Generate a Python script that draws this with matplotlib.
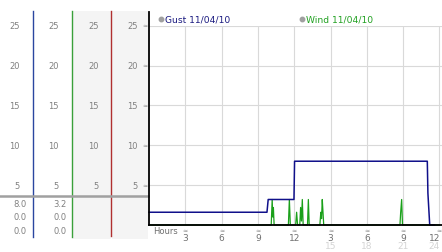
import matplotlib
matplotlib.use("Agg")
import matplotlib.pyplot as plt
from matplotlib.patches import Rectangle
from matplotlib.transforms import blended_transform_factory

# Gust series (hours, mph)
gust_hours = [0.0, 9.75, 9.85, 11.98, 12.03, 23.0, 23.05, 23.2, 23.6]
gust_vals = [1.6, 1.6, 3.2, 3.2, 8.0, 8.0, 4.0, 0.0, 0.0]

# Wind series (hours, mph)
wind_hours = [0.0, 10.1, 10.18, 10.23, 10.28, 10.34, 11.52, 11.6, 11.68,
              12.12, 12.2, 12.28, 12.46, 12.53, 12.6, 12.67, 12.74,
              13.1, 13.17, 13.24, 14.12, 14.2, 14.26, 14.32, 14.38, 14.44,
              20.74, 20.8, 20.88, 20.95, 24.0]
wind_vals = [0, 0, 3.2, 1.0, 2.2, 0, 0, 3.2, 0,
             0, 1.6, 0, 0, 2.2, 0.5, 3.2, 0,
             0, 3.2, 0, 0, 1.6, 0.8, 3.2, 1.6, 0,
             0, 1.6, 3.2, 0, 0]

y_ticks = [5, 10, 15, 20, 25]
x_ticks = [3, 6, 9, 12, 15, 18, 21, 24]
x_labels = ["3", "6", "9", "12", "3", "6", "9", "12"]
x_ticks2 = [15, 18, 21, 24]
x_labels2 = ["15", "18", "21", "24"]
table_gust = ["8.0", "0.0", "0.0"]
table_wind = ["3.2", "0.0", "0.0"]

W, H = 442, 253
fig = plt.figure(figsize=(W / 100, H / 100), dpi=100)

# overlay in pixel coords for the left panel
ov = fig.add_axes([0, 0, 1, 1], zorder=0)
ov.set_xlim(0, W)
ov.set_ylim(H, 0)
ov.axis("off")

x0, x1, ytop, ybot = 149, 442, 26.7, 226
ax = fig.add_axes([x0 / W, (H - ybot) / H, (x1 - x0) / W, (ybot - ytop) / H], zorder=1)
ax.set_facecolor("none")
ax.set_xlim(0, (x1 - x0) / 12.1)
ax.set_ylim(0, 25)
for s in ax.spines.values():
    s.set_visible(False)
ax.set_xticks([])
ax.set_yticks([])

grid_c = "#d9d9d9"
for v in y_ticks:
    ax.axhline(v, color=grid_c, lw=0.8, zorder=0)
for h in x_ticks:
    ax.axvline(h, color=grid_c, lw=0.8, zorder=0)

ax.plot(wind_hours, wind_vals, color="#1aa01a", lw=0.9, zorder=2, clip_on=False)
ax.plot(gust_hours, gust_vals, color="#10108a", lw=1.1, zorder=3, clip_on=False)

# axis lines
ax.plot([0, 0], [0, (ybot - 13) / (ybot - ytop)], transform=ax.transAxes,
        color="black", lw=1.3, clip_on=False, zorder=4)
ax.plot([0, 1], [0, 0], transform=ax.transAxes, color="black", lw=1.3,
        clip_on=False, zorder=4)

# x tick labels
xt = blended_transform_factory(ax.transData, ov.transData)
last = x_ticks[-1]
for h, lab in zip(x_ticks, x_labels):
    ov.text(h, 231, "\u2248", transform=xt, ha="center", va="center",
            fontsize=4.5, color="#8a8a8a")
    ov.text(h + (0.05 if h == last else 0), 238.5, lab, transform=xt,
            ha="right" if h == last else "center", va="center",
            fontsize=6.5, color="#707070")
for h, lab in zip(x_ticks2, x_labels2):
    ov.text(h + (0.05 if h == last else 0), 247, lab, transform=xt,
            ha="right" if h == last else "center", va="center",
            fontsize=6.5, color="#d4d4d4")
ov.text(153, 232, "Hours", ha="left", va="center", fontsize=6, color="#707070")

# left panel
ov.add_patch(Rectangle((72.7, 12), 38.3, 228, color="#f4f4f4", lw=0))
ov.add_patch(Rectangle((111.7, 12), 36.5, 228, color="#f4f4f4", lw=0))
ov.plot([33.3, 33.3], [12, 237.6], color="#2a46a0", lw=1)
ov.plot([72.3, 72.3], [12, 237.6], color="#3aa03a", lw=1)
ov.plot([111.3, 111.3], [12, 236.7], color="#b03030", lw=1)
ov.plot([0, 148], [197, 197], color="#a0a0a0", lw=1.8)

yt = blended_transform_factory(ov.transData, ax.transData)
for v in y_ticks:
    for xr in [19.5, 58.5, 99, 137.5]:
        ov.text(xr, v, str(v), transform=yt, ha="right", va="center",
                fontsize=6, color="#808080")
    ov.text(145, v, "\u2248", transform=yt, ha="center", va="center",
            fontsize=4.5, color="#8a8a8a")

for i, (g, w) in enumerate(zip(table_gust, table_wind)):
    yy = 204.5 + i * 13.5
    ov.text(27, yy, g, ha="right", va="center", fontsize=6, color="#808080")
    ov.text(66.5, yy, w, ha="right", va="center", fontsize=6, color="#808080")

# legend
ov.plot([160.7], [20.3], "o", ms=3.2, color="#a0a0a0")
ov.text(165, 20.3, "Gust 11/04/10", ha="left", va="center", fontsize=6.6, color="#1a1a80")
ov.plot([301.7], [20.3], "o", ms=3.2, color="#a0a0a0")
ov.text(306, 20.3, "Wind 11/04/10", ha="left", va="center", fontsize=6.6, color="#20a020")

fig.savefig("out.png", dpi=100)
